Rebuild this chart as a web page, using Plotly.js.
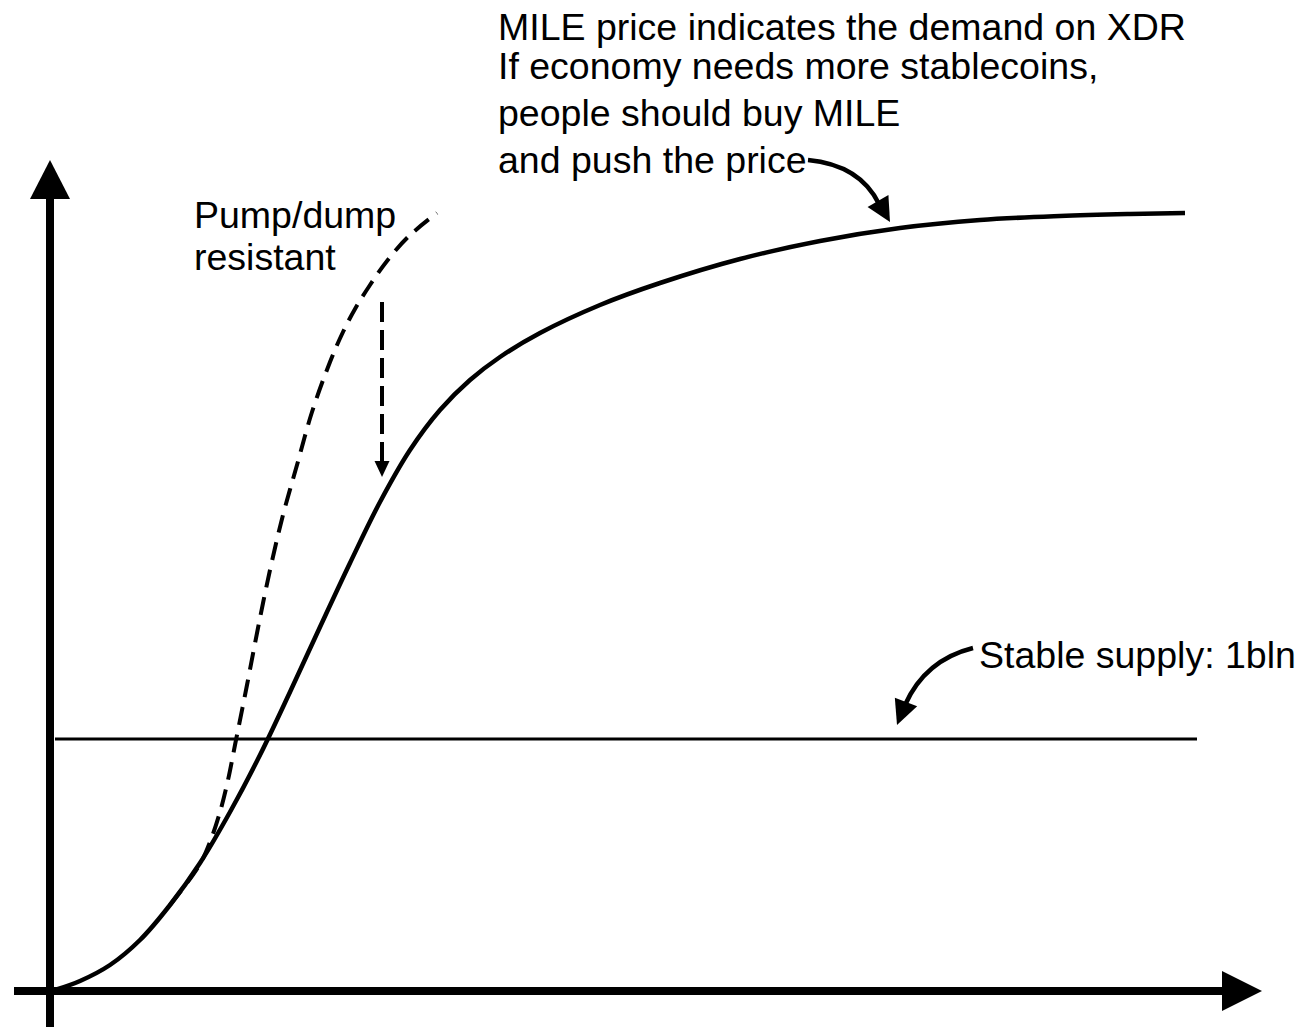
<!DOCTYPE html>
<html>
<head>
<meta charset="utf-8">
<script src="https://cdn.plot.ly/plotly-3.0.1.min.js"></script>
<style>
html,body{margin:0;padding:0;background:#fff;}
#chart{width:1299px;height:1027px;}
</style>
</head>
<body>
<div id="chart"></div>
<script>
// ---- Data (conceptual units: origin at the axes crossing) ----
var solidX = [5, 30, 60, 90, 120, 150, 180, 210, 240, 270, 300, 330, 360, 390, 420, 450, 490, 550, 610, 690, 770, 850, 930, 1010, 1080, 1135];
var solidY = [1, 10, 26, 51, 86, 128, 179, 236, 299, 364, 428, 489, 541, 581, 611, 634, 658, 686, 708, 732, 750, 763, 771, 775, 777, 778];

var dashX = [120, 150, 160, 170, 178, 185, 197, 208, 220, 233, 247, 262, 280, 293, 305, 320, 337, 358, 387];
var dashY = [86, 127, 149, 179, 211, 246, 306, 363, 421, 476, 526, 579, 629, 659, 682, 706, 730, 754, 778];

var supplyX = [5, 1147];
var supplyY = [252, 252];

var topLines = [
  "MILE price indicates the demand on XDR",
  "If economy needs more stablecoins,",
  "people should buy MILE",
  "and push the price"
];
var pumpLines = ["Pump/dump", "resistant"];
var supplyLabel = "Stable supply: 1bln";

// ---- Layout helpers (page pixel -> chart units) ----
function X(px){ return px - 50; }
function Y(py){ return 991 - py; }

function head(tip, base, halfW){
  var dx = tip[0]-base[0], dy = tip[1]-base[1];
  var len = Math.sqrt(dx*dx+dy*dy);
  var nx = -dy/len*halfW, ny = dx/len*halfW;
  return {type:'path', xref:'x', yref:'y',
    path:'M'+(base[0]+nx)+','+(base[1]+ny)+' L'+tip[0]+','+tip[1]+' L'+(base[0]-nx)+','+(base[1]-ny)+' Z',
    fillcolor:'#000', line:{color:'#000', width:0}};
}
function seg(x0,y0,x1,y1,w,dash){
  return {type:'line', xref:'x', yref:'y', x0:x0, y0:y0, x1:x1, y1:y1,
    line:{color:'#000', width:w, dash:dash||'solid'}};
}

var FONT = {family:'"Liberation Sans", Arial, Helvetica, sans-serif', size:37.5, color:'#000'};

var traces = [
  {x: supplyX, y: supplyY, mode:'lines', line:{color:'#000', width:3}, hoverinfo:'skip'},
  {x: solidX, y: solidY, mode:'lines', line:{color:'#000', width:4.5, shape:'spline', smoothing:1}, hoverinfo:'skip'},
  {x: dashX, y: dashY, mode:'lines', line:{color:'#000', width:4, shape:'spline', smoothing:1, dash:'18px,10px'}, hoverinfo:'skip'}
];

var shapes = [
  // y axis
  seg(X(50), Y(1030), X(50), Y(198), 8),
  head([X(50), Y(160)], [X(50), Y(199)], 20),
  // x axis
  seg(X(14), Y(991), X(1223), Y(991), 8),
  head([X(1262), Y(991)], [X(1222), Y(991)], 20),
  // dashed drop arrow
  seg(X(382), Y(302), X(382), Y(463), 4, '20px,8px'),
  head([X(382), Y(477)], [X(382), Y(461)], 7.5),
  // curved arrow to the top of the curve
  {type:'path', xref:'x', yref:'y',
   path:'M'+X(808)+','+Y(160)+' Q'+X(860)+','+Y(165)+' '+X(879)+','+Y(204),
   line:{color:'#000', width:4.5}},
  head([X(890), Y(222)], [X(878), Y(201)], 12),
  // curved arrow to the supply line
  {type:'path', xref:'x', yref:'y',
   path:'M'+X(973)+','+Y(648)+' Q'+X(925)+','+Y(660)+' '+X(905)+','+Y(705),
   line:{color:'#000', width:4.5}},
  head([X(897), Y(725)], [X(906), Y(702)], 12)
];

var annY = [27, 66, 113, 160];
var annotations = [];
topLines.forEach(function(t,i){
  annotations.push({x:X(496), y:Y(annY[i]), xref:'x', yref:'y', text:t, showarrow:false,
    xanchor:'left', yanchor:'middle', font:FONT});
});
var pumpY = [215, 257];
pumpLines.forEach(function(t,i){
  annotations.push({x:X(192), y:Y(pumpY[i]), xref:'x', yref:'y', text:t, showarrow:false,
    xanchor:'left', yanchor:'middle', font:FONT});
});
annotations.push({x:X(977), y:Y(655), xref:'x', yref:'y', text:supplyLabel, showarrow:false,
  xanchor:'left', yanchor:'middle', font:FONT});

var layout = {
  width:1299, height:1027,
  margin:{l:0, r:0, t:0, b:0, pad:0},
  paper_bgcolor:'#fff', plot_bgcolor:'#fff',
  showlegend:false,
  xaxis:{range:[X(0), X(1299)], visible:false, fixedrange:true},
  yaxis:{range:[Y(1027), Y(0)], visible:false, fixedrange:true},
  shapes:shapes,
  annotations:annotations
};

Plotly.newPlot('chart', traces, layout, {staticPlot:true, displayModeBar:false});
</script>
</body>
</html>
